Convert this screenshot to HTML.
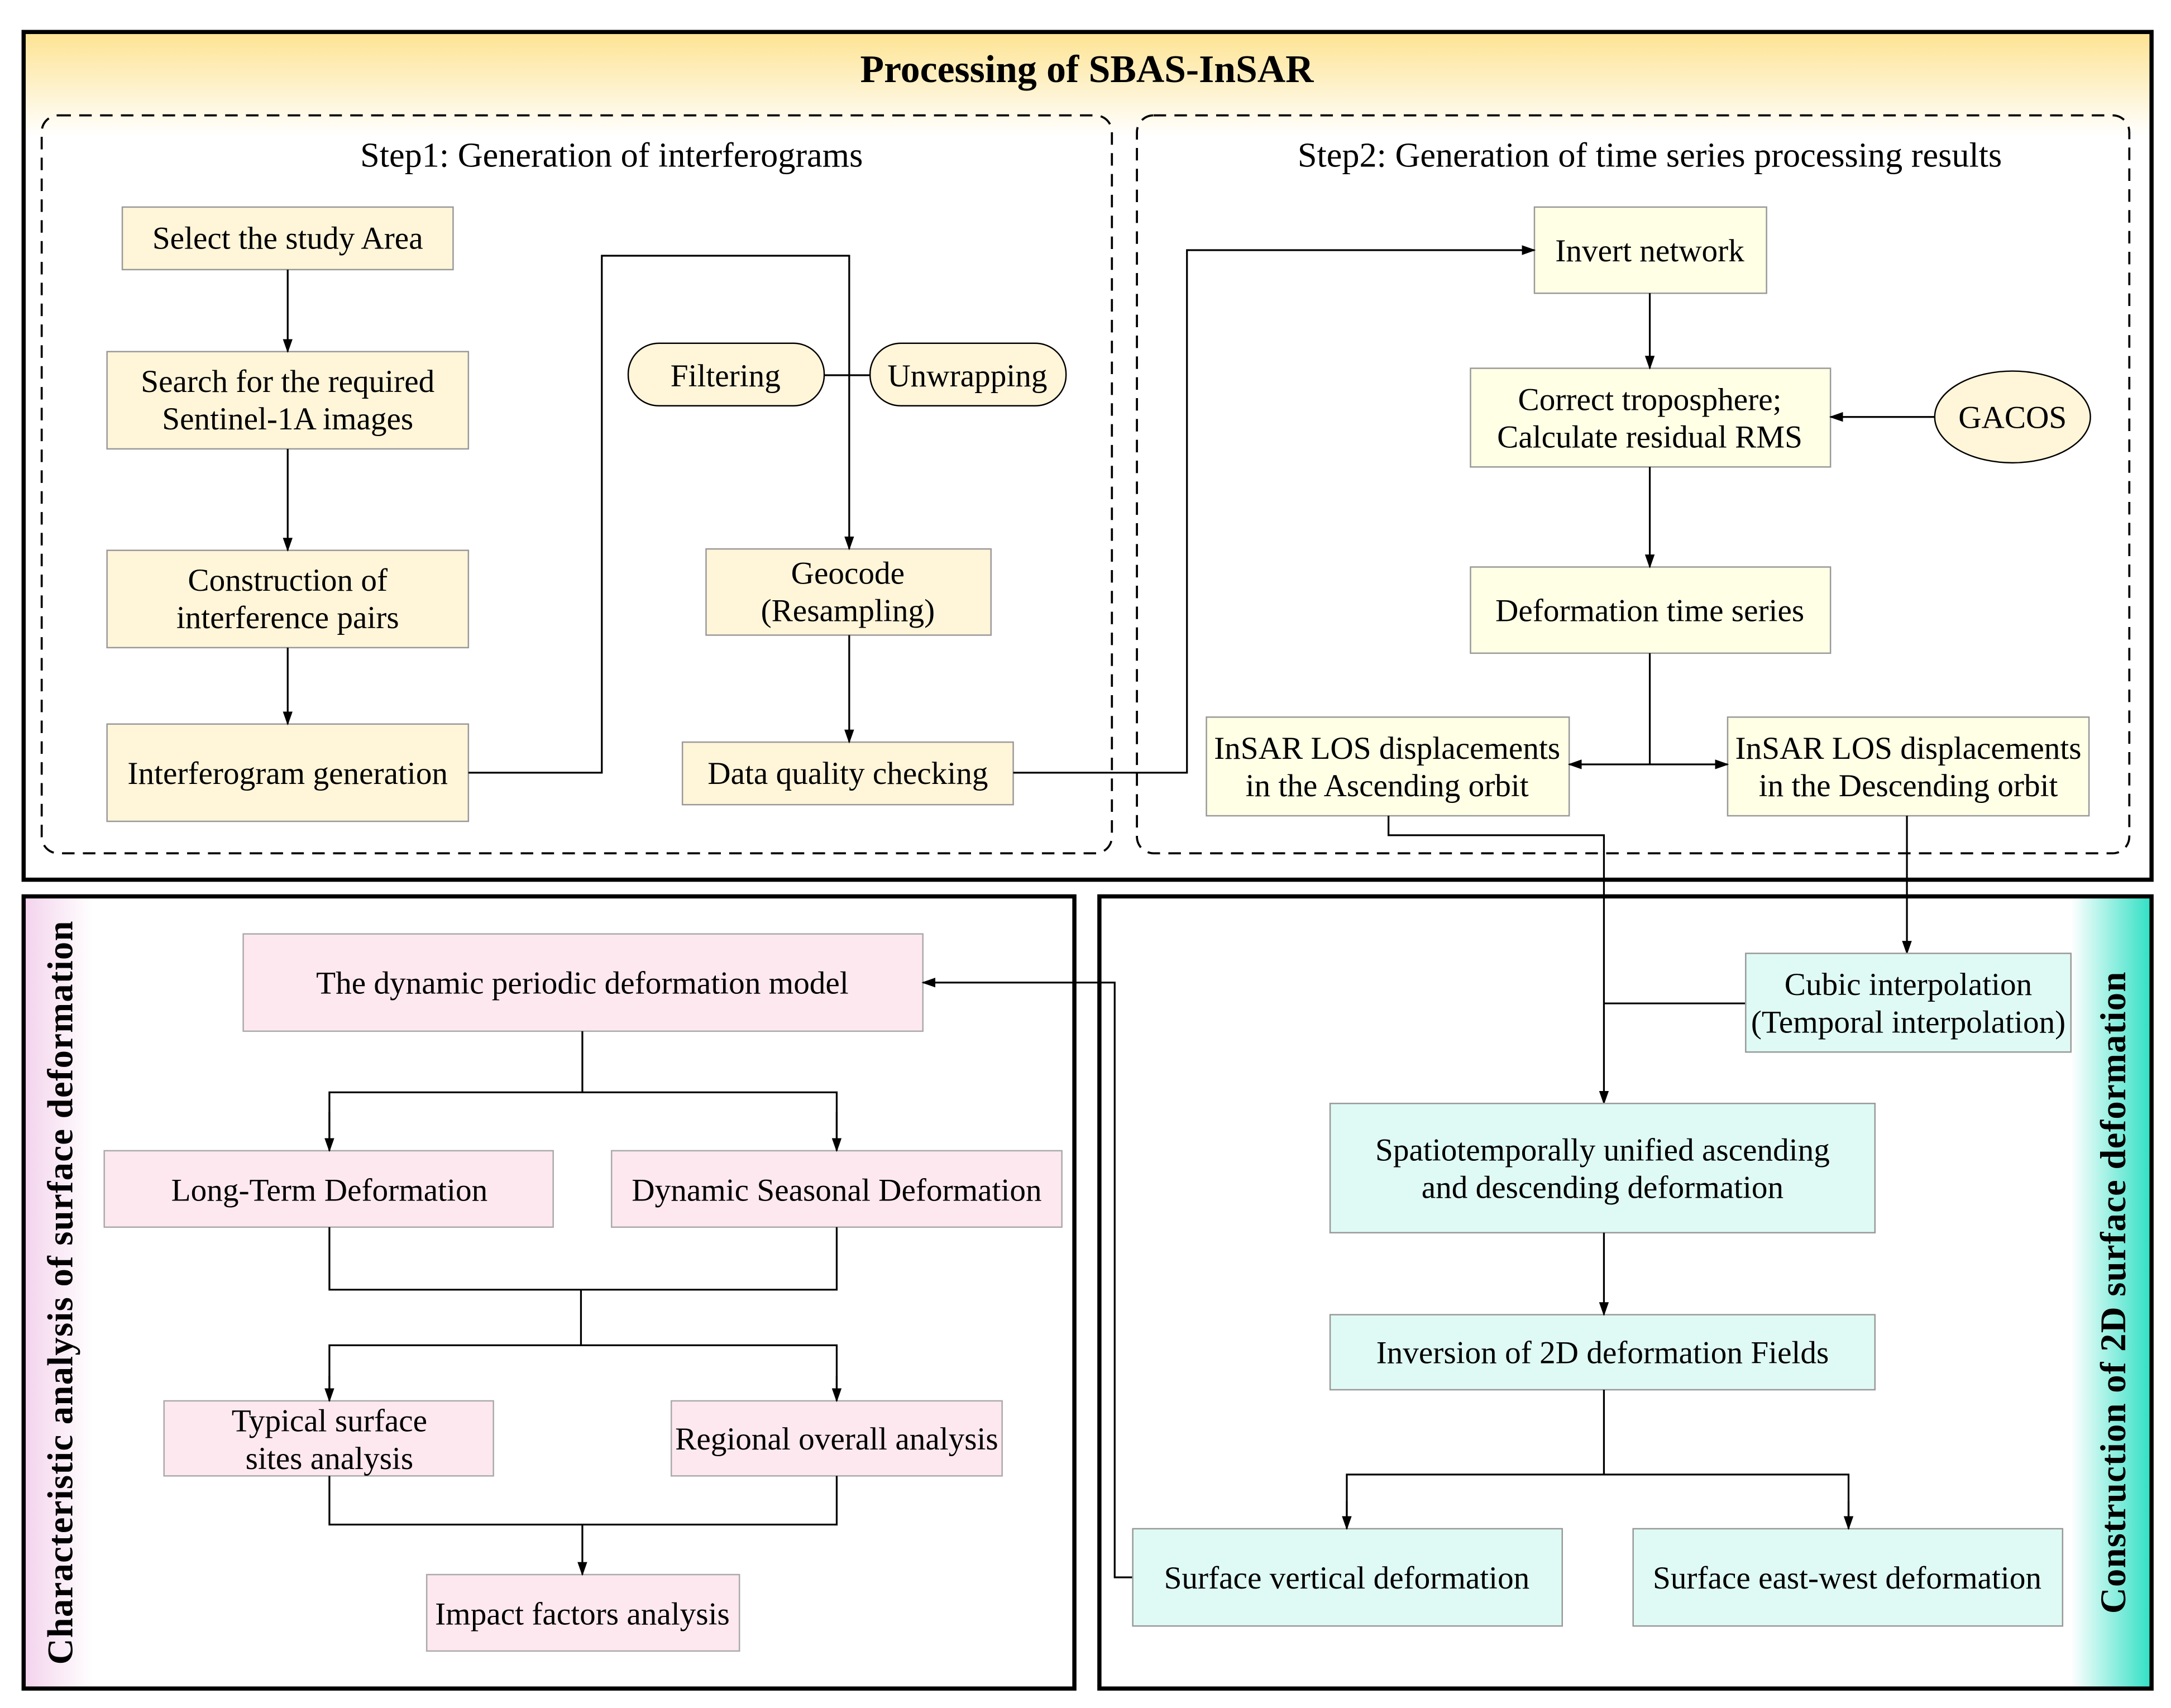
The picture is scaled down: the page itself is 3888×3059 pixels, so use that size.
<!DOCTYPE html>
<html><head><meta charset="utf-8"><style>html,body{margin:0;padding:0;background:#fff}svg{display:block}</style></head>
<body>
<svg width="3888" height="3059" viewBox="0 0 1562 1229" preserveAspectRatio="none" xmlns="http://www.w3.org/2000/svg" font-family="Liberation Serif, serif">
<defs>
<linearGradient id="gy" x1="0" y1="0" x2="0" y2="1"><stop offset="0" stop-color="#fde391"/><stop offset="1" stop-color="#fff"/></linearGradient>
<linearGradient id="gp" x1="0" y1="0" x2="1" y2="0"><stop offset="0" stop-color="#f3d3ec"/><stop offset="1" stop-color="#fff"/></linearGradient>
<linearGradient id="gt" x1="0" y1="0" x2="1" y2="0"><stop offset="0" stop-color="#fff"/><stop offset="1" stop-color="#2fe0c4"/></linearGradient>
<marker id="a" markerWidth="10" markerHeight="10" refX="9" refY="5" orient="auto" markerUnits="userSpaceOnUse"><path d="M0,1.5 L10,5 L0,8.5 z" fill="#000"/></marker>
</defs>
<!-- top panel -->
<rect x="17" y="23" width="1531" height="75" fill="url(#gy)"/>
<rect x="17" y="23" width="1531" height="610" fill="none" stroke="#000" stroke-width="3"/>
<text x="782" y="59" font-size="28" font-weight="bold" text-anchor="middle">Processing of SBAS-InSAR</text>
<rect x="30" y="83" width="770" height="531" rx="12" fill="none" stroke="#000" stroke-width="1.5" stroke-dasharray="9,6"/>
<rect x="818" y="83" width="714" height="531" rx="12" fill="none" stroke="#000" stroke-width="1.5" stroke-dasharray="9,6"/>
<text x="440" y="120" font-size="25" text-anchor="middle">Step1: Generation of interferograms</text>
<text x="1187" y="120" font-size="25" text-anchor="middle">Step2: Generation of time series processing results</text>
<g fill="#fff5d9" stroke="#999" stroke-width="1">
<rect x="88" y="149" width="238" height="45"/>
<rect x="77" y="253" width="260" height="70"/>
<rect x="77" y="396" width="260" height="70"/>
<rect x="77" y="521" width="260" height="70"/>
<rect x="508" y="395" width="205" height="62"/>
<rect x="491" y="534" width="238" height="45"/>
</g>
<g fill="#fff5d9" stroke="#000" stroke-width="1">
<rect x="452" y="247" width="141" height="45" rx="22"/>
<rect x="626" y="247" width="141" height="45" rx="22"/>
<ellipse cx="1448" cy="300" rx="56" ry="33"/>
</g>
<g fill="#ffffe6" stroke="#999" stroke-width="1">
<rect x="1104" y="149" width="167" height="62"/>
<rect x="1058" y="265" width="259" height="71"/>
<rect x="1058" y="408" width="259" height="62"/>
<rect x="868" y="516" width="261" height="71"/>
<rect x="1243" y="516" width="260" height="71"/>
</g>
<g font-size="23" text-anchor="middle">
<text x="207" y="179">Select the study Area</text>
<text x="207" y="282">Search for the required</text><text x="207" y="309">Sentinel-1A images</text>
<text x="207" y="425">Construction of</text><text x="207" y="452">interference pairs</text>
<text x="207" y="564">Interferogram generation</text>
<text x="522" y="278">Filtering</text>
<text x="696" y="278">Unwrapping</text>
<text x="610" y="420">Geocode</text><text x="610" y="447">(Resampling)</text>
<text x="610" y="564">Data quality checking</text>
<text x="1187" y="188">Invert network</text>
<text x="1187" y="295">Correct troposphere;</text><text x="1187" y="322">Calculate residual RMS</text>
<text x="1448" y="308">GACOS</text>
<text x="1187" y="447">Deformation time series</text>
<text x="998" y="546">InSAR LOS displacements</text><text x="998" y="573">in the Ascending orbit</text>
<text x="1373" y="546">InSAR LOS displacements</text><text x="1373" y="573">in the Descending orbit</text>
</g>
<g stroke="#000" stroke-width="1.3" fill="none">
<line x1="207" y1="194" x2="207" y2="253" marker-end="url(#a)"/>
<line x1="207" y1="323" x2="207" y2="396" marker-end="url(#a)"/>
<line x1="207" y1="466" x2="207" y2="521" marker-end="url(#a)"/>
<polyline points="337,556 433,556 433,184 611,184 611,395" marker-end="url(#a)"/>
<line x1="593" y1="270" x2="626" y2="270"/>
<line x1="611" y1="457" x2="611" y2="534" marker-end="url(#a)"/>
<polyline points="729,556 854,556 854,180 1104,180" marker-end="url(#a)"/>
<line x1="1187" y1="211" x2="1187" y2="265" marker-end="url(#a)"/>
<line x1="1392" y1="300" x2="1317" y2="300" marker-end="url(#a)"/>
<line x1="1187" y1="336" x2="1187" y2="408" marker-end="url(#a)"/>
<line x1="1187" y1="470" x2="1187" y2="550"/>
<line x1="1187" y1="550" x2="1129" y2="550" marker-end="url(#a)"/>
<line x1="1187" y1="550" x2="1243" y2="550" marker-end="url(#a)"/>
<polyline points="999,587 999,601 1154,601 1154,794" marker-end="url(#a)"/>
<line x1="1372" y1="587" x2="1372" y2="686" marker-end="url(#a)"/>
<line x1="1256" y1="722" x2="1154" y2="722"/>
</g>
<!-- bottom left -->
<rect x="17" y="645" width="50" height="570" fill="url(#gp)"/>
<rect x="17" y="645" width="756" height="570" fill="none" stroke="#000" stroke-width="3"/>
<text transform="translate(52,930) rotate(-90)" font-size="26" font-weight="bold" text-anchor="middle" letter-spacing="0.5">Characteristic analysis of surface deformation</text>
<g fill="#fde8ef" stroke="#aaa" stroke-width="1">
<rect x="175" y="672" width="489" height="70"/>
<rect x="75" y="828" width="323" height="55"/>
<rect x="440" y="828" width="324" height="55"/>
<rect x="118" y="1008" width="237" height="54"/>
<rect x="483" y="1008" width="238" height="54"/>
<rect x="307" y="1133" width="225" height="55"/>
</g>
<g font-size="23" text-anchor="middle">
<text x="419" y="715">The dynamic periodic deformation model</text>
<text x="237" y="864">Long-Term Deformation</text>
<text x="602" y="864">Dynamic Seasonal Deformation</text>
<text x="237" y="1030">Typical surface</text><text x="237" y="1057">sites analysis</text>
<text x="602" y="1043">Regional overall analysis</text>
<text x="419" y="1169">Impact factors analysis</text>
</g>
<g stroke="#000" stroke-width="1.3" fill="none">
<line x1="419" y1="742" x2="419" y2="786"/>
<polyline points="237,828 237,786 602,786 602,828"/>
<line x1="237" y1="800" x2="237" y2="828" marker-end="url(#a)"/>
<line x1="602" y1="800" x2="602" y2="828" marker-end="url(#a)"/>
<polyline points="237,883 237,928 602,928 602,883"/>
<line x1="418" y1="928" x2="418" y2="968"/>
<polyline points="237,1008 237,968 602,968 602,1008"/>
<line x1="237" y1="990" x2="237" y2="1008" marker-end="url(#a)"/>
<line x1="602" y1="990" x2="602" y2="1008" marker-end="url(#a)"/>
<polyline points="237,1062 237,1097 602,1097 602,1062"/>
<line x1="419" y1="1097" x2="419" y2="1133" marker-end="url(#a)"/>
<polyline points="815,1135 802,1135 802,707 664,707" marker-end="url(#a)"/>
</g>
<!-- bottom right -->
<rect x="1490" y="645" width="58" height="570" fill="url(#gt)"/>
<rect x="791" y="645" width="757" height="570" fill="none" stroke="#000" stroke-width="3"/>
<text transform="translate(1529,930) rotate(-90)" font-size="26" font-weight="bold" text-anchor="middle" letter-spacing="0.5">Construction of 2D surface deformation</text>
<g fill="#dffaf4" stroke="#999" stroke-width="1">
<rect x="1256" y="686" width="234" height="71"/>
<rect x="957" y="794" width="392" height="93"/>
<rect x="957" y="946" width="392" height="54"/>
<rect x="815" y="1100" width="309" height="70"/>
<rect x="1175" y="1100" width="309" height="70"/>
</g>
<g font-size="23" text-anchor="middle">
<text x="1373" y="716">Cubic interpolation</text><text x="1373" y="743">(Temporal interpolation)</text>
<text x="1153" y="835">Spatiotemporally unified ascending</text><text x="1153" y="862">and descending deformation</text>
<text x="1153" y="981">Inversion of 2D deformation Fields</text>
<text x="969" y="1143">Surface vertical deformation</text>
<text x="1329" y="1143">Surface east-west deformation</text>
</g>
<g stroke="#000" stroke-width="1.3" fill="none">
<line x1="1154" y1="887" x2="1154" y2="946" marker-end="url(#a)"/>
<line x1="1154" y1="1000" x2="1154" y2="1061"/>
<polyline points="969,1100 969,1061 1330,1061 1330,1100"/>
<line x1="969" y1="1080" x2="969" y2="1100" marker-end="url(#a)"/>
<line x1="1330" y1="1080" x2="1330" y2="1100" marker-end="url(#a)"/>
</g>
</svg>
</body></html>
